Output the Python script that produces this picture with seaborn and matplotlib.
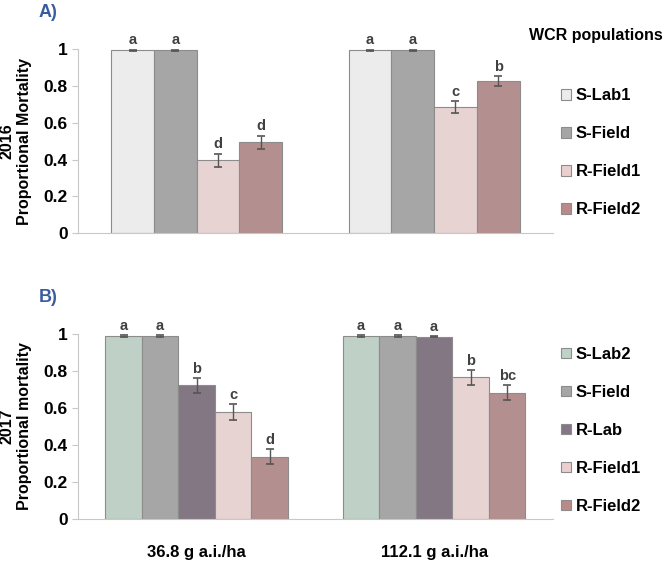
import matplotlib
matplotlib.use('Agg')
import matplotlib.pyplot as plt
from matplotlib.patches import Patch
from matplotlib.container import BarContainer
import pandas as pd
import seaborn as sns

doses = ['36.8 g a.i./ha', '112.1 g a.i./ha']

pops_2016 = ['S-Lab1', 'S-Field', 'R-Field1', 'R-Field2']
mort_2016 = [[0.995, 0.995], [0.995, 0.995], [0.397, 0.685], [0.495, 0.828]]
err_2016 = [[0.003, 0.003], [0.003, 0.003], [0.036, 0.034], [0.036, 0.027]]
let_2016 = [['a', 'a'], ['a', 'a'], ['d', 'c'], ['d', 'b']]
col_2016 = ['#ececec', '#a6a6a6', '#ebcfcf', '#b98a89']

pops_2017 = ['S-Lab2', 'S-Field', 'R-Lab', 'R-Field1', 'R-Field2']
mort_2017 = [[0.989, 0.989], [0.989, 0.989], [0.723, 0.986], [0.576, 0.766], [0.336, 0.683]]
err_2017 = [[0.003, 0.003], [0.003, 0.003], [0.040, 0.003], [0.043, 0.040], [0.041, 0.042]]
let_2017 = [['a', 'a'], ['a', 'a'], ['b', 'a'], ['c', 'b'], ['d', 'bc']]
col_2017 = ['#bcd3c6', '#a6a6a6', '#857585', '#ebcfcf', '#b98a89']

plt.rcParams['font.family'] = ['Liberation Sans', 'DejaVu Sans']
plt.rcParams['font.weight'] = 'bold'

fig = plt.figure(figsize=(6.66, 5.66), dpi=100)
axA = fig.add_axes([0.117, 0.588, 0.713, 0.325])
axB = fig.add_axes([0.117, 0.083, 0.713, 0.327])


def panel(ax, pops, mort, err, lets, cols, width, ylabel):
    df = pd.DataFrame([(d, p, mort[i][j]) for i, p in enumerate(pops)
                       for j, d in enumerate(doses)], columns=['dose', 'pop', 'mort'])
    sns.barplot(data=df, x='dose', y='mort', hue='pop', order=doses, hue_order=pops,
                palette=cols, width=width, edgecolor='#8c8c8c', linewidth=0.8,
                errorbar=None, legend=False, ax=ax)
    bars = [c for c in ax.containers if isinstance(c, BarContainer)]
    for i, cont in enumerate(bars):
        for j, bar in enumerate(cont):
            x = bar.get_x() + bar.get_width() / 2
            top = mort[i][j] + err[i][j]
            ax.errorbar(x, mort[i][j], yerr=err[i][j], fmt='none', ecolor='#555555',
                        elinewidth=1, capsize=3, capthick=1.2)
            ax.text(x, top + 0.012, lets[i][j], ha='center', va='bottom',
                    fontsize=10.5, color='#404040', fontweight='bold', clip_on=False)
    ax.set_ylim(0, 1)
    ax.set_xlim(-0.5, 1.5)
    ax.set_yticks([0, 0.2, 0.4, 0.6, 0.8, 1])
    ax.set_yticklabels(['0', '0.2', '0.4', '0.6', '0.8', '1'])
    ax.set_ylabel(ylabel, fontsize=11.5, fontweight='bold')
    ax.yaxis.set_label_coords(-0.097, 0.5)
    ax.set_xlabel('')
    for s in ['top', 'right']:
        ax.spines[s].set_visible(False)
    for s in ['left', 'bottom']:
        ax.spines[s].set_color('#c8c8c8')
    ax.tick_params(axis='y', length=4, color='#c8c8c8', labelsize=12.5)
    ax.tick_params(axis='x', length=0, labelsize=12, pad=19)
    for t in ax.get_yticklabels() + ax.get_xticklabels():
        t.set_fontweight('bold')
    ax.set_facecolor('white')


panel(axA, pops_2016, mort_2016, err_2016, let_2016, col_2016, 0.72,
      '2016\nProportional Mortality')
axA.set_xticklabels([])
panel(axB, pops_2017, mort_2017, err_2017, let_2017, col_2017, 0.77,
      '2017\nProportional mortality')

fig.text(0.058, 0.978, 'A)', color='#3a5ba0', fontsize=13, fontweight='bold', va='center')
fig.text(0.058, 0.474, 'B)', color='#3a5ba0', fontsize=13, fontweight='bold', va='center')
fig.text(0.795, 0.938, 'WCR populations', fontsize=11.5, fontweight='bold', va='center')


def legend(pops, cols, y):
    handles = [Patch(facecolor=c, edgecolor='#8c8c8c', linewidth=0.8) for c in cols]
    fig.legend(handles, pops, loc='upper left', bbox_to_anchor=(0.833, y),
               frameon=False, handlelength=0.6, handleheight=0.6,
               handletextpad=0.25, labelspacing=1.38, borderaxespad=0,
               prop={'weight': 'bold', 'size': 12})


legend(pops_2016, col_2016, 0.856)
legend(pops_2017, col_2017, 0.399)

fig.savefig('out.png', dpi=100, facecolor='white')
